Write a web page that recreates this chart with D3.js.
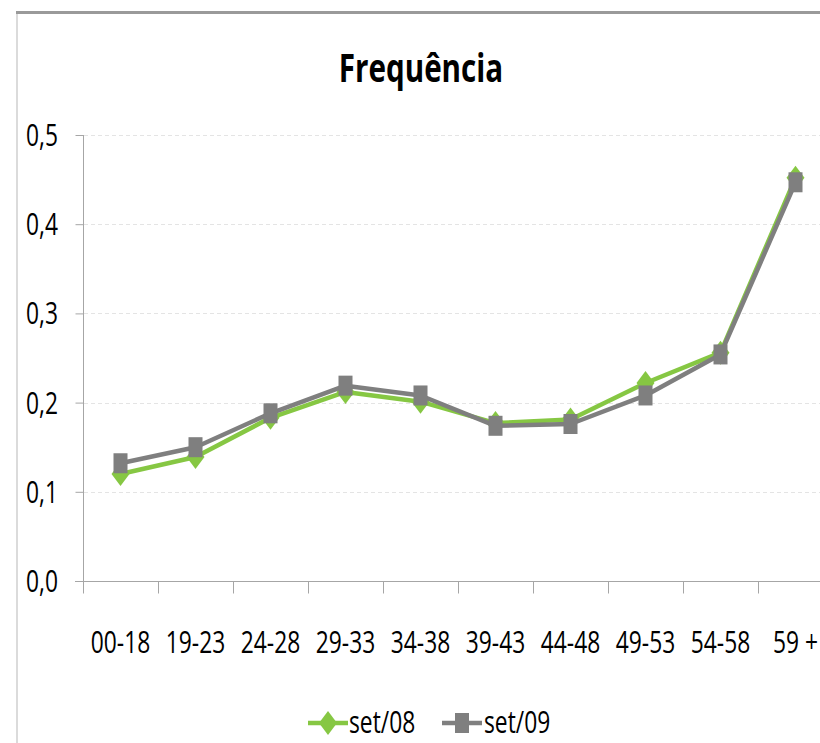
<!DOCTYPE html>
<html><head><meta charset="utf-8">
<script src="https://cdn.jsdelivr.net/npm/d3@7"></script>
<style>html,body{margin:0;padding:0;background:#fff;overflow:hidden}</style>
</head><body>
<svg id="c" width="820" height="743"></svg>
<script>
const categories = ["00-18","19-23","24-28","29-33","34-38","39-43","44-48","49-53","54-58","59 +"];
const set08 = [0.120,0.139,0.183,0.212,0.201,0.177,0.181,0.222,0.256,0.452];
const set09 = [0.132,0.150,0.188,0.219,0.208,0.174,0.176,0.208,0.254,0.447];
const yTicks = [0,0.1,0.2,0.3,0.4,0.5];
const yTickLabels = ["0,0","0,1","0,2","0,3","0,4","0,5"];
const seriesNames = ["set/08","set/09"];
const title = "Frequência";

const GREEN = "#86c743", GRAY = "#7f7f7f";
const FONT = "'Open Sans', sans-serif";
const SX = 0.76;
const svg = d3.select("#c");

// frame
svg.append("line").attr("x1",17).attr("x2",17).attr("y1",12).attr("y2",743).attr("stroke","#cfcfcf").attr("stroke-width",1.5);
svg.append("line").attr("x1",16).attr("x2",820).attr("y1",12.5).attr("y2",12.5).attr("stroke","#9a9a9a").attr("stroke-width",3);

const x = d3.scaleBand().domain(categories).range([83,833]).paddingInner(0).paddingOuter(0);
const y = d3.scaleLinear().domain([0,0.5]).range([581,135]);
const cx = d => x(d) + x.bandwidth()/2;

function txt(g, tx, ty, s, opts) {
  const gg = g.append("g").attr("transform",`translate(${tx},${ty}) scale(${opts.sx||SX},${opts.sy||1.04})`);
  return gg.append("text").attr("x",0).attr("y",0)
    .attr("text-anchor",opts.anchor||"middle")
    .attr("font-family",FONT).attr("font-size",opts.size||30)
    .attr("font-weight",opts.weight||"normal").attr("fill","#000").text(s);
}

// gridlines
svg.append("g").selectAll("line").data(yTicks.filter(v=>v>0)).join("line")
  .attr("x1",84).attr("x2",820).attr("y1",d=>Math.round(y(d))+0.5).attr("y2",d=>Math.round(y(d))+0.5)
  .attr("stroke","#e4e4e4").attr("stroke-width",1).attr("stroke-dasharray","4,3");

// y axis
const yAxis = d3.axisLeft(y).tickValues(yTicks).tickSize(8).tickFormat("");
const ya = svg.append("g").attr("transform","translate(83.5,0)").call(yAxis);
ya.selectAll("path,line").attr("stroke","#a6a6a6");
ya.select(".domain").attr("d",`M0,${y(0.5)}V${y(0)}`);
const yl = svg.append("g");
yTicks.forEach((v,i)=>{ txt(yl, 58, y(v)+11, yTickLabels[i], {anchor:"end"}); });

// x axis
const xa = svg.append("g").attr("transform",`translate(0,${y(0)+0.5})`);
xa.append("line").attr("x1",75).attr("x2",820).attr("stroke","#a6a6a6");
xa.selectAll("line.t").data(categories).join("line").attr("class","t")
  .attr("x1",d=>Math.round(x(d))+0.5).attr("x2",d=>Math.round(x(d))+0.5).attr("y1",0).attr("y2",12)
  .attr("stroke","#a6a6a6");
const xl = svg.append("g");
categories.forEach(c=>{ txt(xl, cx(c), 653, c, {}); });

// title
txt(svg, 421, 82, title, {weight:"bold", size:37, sx:0.8, sy:1.05});

// series
const line = d3.line().x((d,i)=>cx(categories[i])).y(d=>y(d));
function diamond(g, px, py){ g.append("path").attr("d",`M${px},${py-12}L${px+9},${py}L${px},${py+12}L${px-9},${py}Z`).attr("fill",GREEN); }
function square(g, px, py){ g.append("rect").attr("x",px-7).attr("y",py-10).attr("width",14).attr("height",20).attr("fill",GRAY); }

const s1 = svg.append("g");
s1.append("path").datum(set08).attr("d",line).attr("fill","none").attr("stroke",GREEN).attr("stroke-width",4.5).attr("stroke-linejoin","round");
set08.forEach((v,i)=>diamond(s1, cx(categories[i]), y(v)));
const s2 = svg.append("g");
s2.append("path").datum(set09).attr("d",line).attr("fill","none").attr("stroke",GRAY).attr("stroke-width",4.5).attr("stroke-linejoin","round");
set09.forEach((v,i)=>square(s2, cx(categories[i]), y(v)));

// legend
const lg = svg.append("g");
lg.append("line").attr("x1",308).attr("x2",348).attr("y1",723).attr("y2",723).attr("stroke",GREEN).attr("stroke-width",4.5);
diamond(lg, 328, 723);
txt(lg, 349, 733, seriesNames[0], {anchor:"start"});
lg.append("line").attr("x1",442).attr("x2",482).attr("y1",723).attr("y2",723).attr("stroke",GRAY).attr("stroke-width",4.5);
square(lg, 462, 723);
txt(lg, 484, 733, seriesNames[1], {anchor:"start"});
</script>
</body></html>
